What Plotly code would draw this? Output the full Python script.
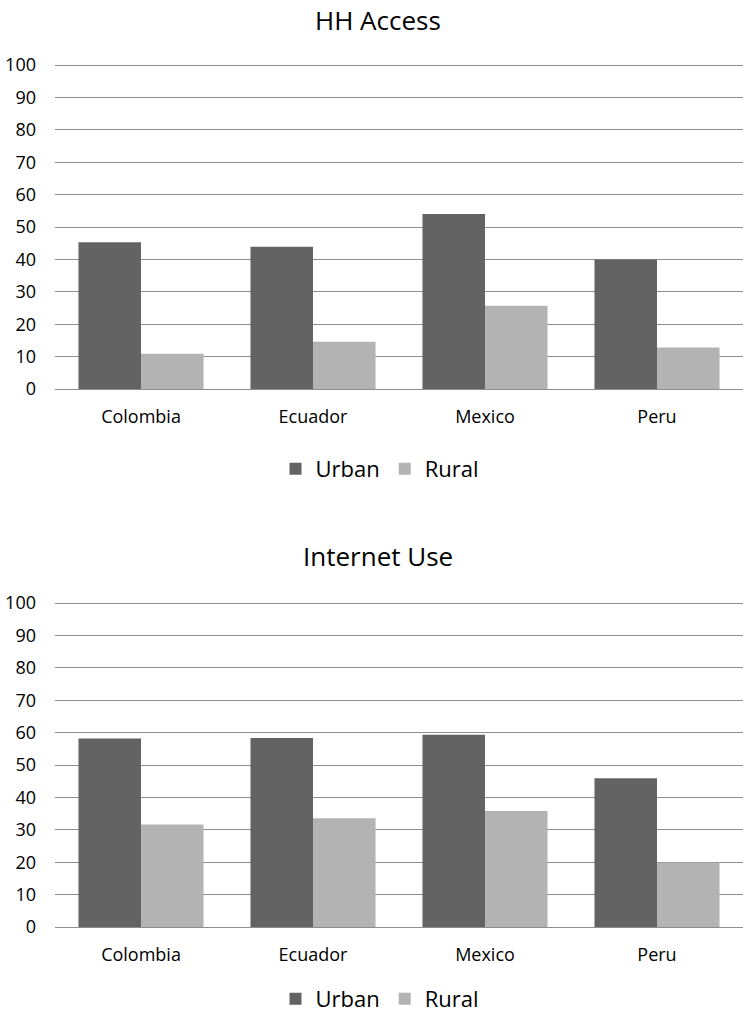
import plotly.graph_objects as go
from plotly.subplots import make_subplots

countries = ["Colombia", "Ecuador", "Mexico", "Peru"]
access_urban = [45.3, 43.9, 54.0, 40.0]
access_rural = [10.9, 14.6, 25.7, 12.8]
use_urban = [58.2, 58.3, 59.3, 45.9]
use_rural = [31.6, 33.6, 35.8, 19.9]
panel_titles = ["HH Access", "Internet Use"]

URBAN = "#636363"
RURAL = "#b3b3b3"
GRID = "#8e8e8e"
FONT = "Open Sans"

W, H = 743, 1021
LEFT = 55
YMAX = 101          # a little headroom so the 100 gridline is drawn
PX_PER_UNIT = 3.24  # vertical pixels per axis unit

def py(px):
    return 1 - px / H

def px_x(px):
    return (px - LEFT) / (W - LEFT)

fig = make_subplots(rows=2, cols=1)

panels = [(access_urban, access_rural, "legend"), (use_urban, use_rural, "legend2")]
for i, (urb, rur, leg) in enumerate(panels, start=1):
    fig.add_trace(go.Bar(x=countries, y=urb, name="Urban", marker_color=URBAN,
                         marker_line_width=0, legend=leg), row=i, col=1)
    fig.add_trace(go.Bar(x=countries, y=rur, name="Rural", marker_color=RURAL,
                         marker_line_width=0, legend=leg), row=i, col=1)

fig.update_layout(
    width=W, height=H,
    margin=dict(l=LEFT, r=0, t=0, b=0, autoexpand=False),
    paper_bgcolor="white", plot_bgcolor="white",
    barmode="group", bargap=0.273, bargroupgap=0,
    font=dict(family=FONT, size=18, color="#000000"),
    showlegend=True,
    legend=dict(orientation="h", x=px_x(380), xanchor="center", y=py(469), yanchor="middle",
                font=dict(size=22), itemwidth=30, traceorder="normal"),
    legend2=dict(orientation="h", x=px_x(380), xanchor="center", y=py(999), yanchor="middle",
                 font=dict(size=22), itemwidth=30, traceorder="normal"),
)

fig.update_yaxes(range=[0, YMAX], tickvals=list(range(0, 101, 10)), showgrid=True,
                 gridcolor=GRID, gridwidth=1, zeroline=False, showline=False, ticks="",
                 ticklabelstandoff=18, tickfont=dict(size=18), fixedrange=True)
fig.update_xaxes(showline=True, linecolor=GRID, linewidth=1, ticks="",
                 ticklabelstandoff=11, tickfont=dict(size=18), fixedrange=True)

span = YMAX * PX_PER_UNIT
fig.update_layout(
    yaxis=dict(domain=[py(389), py(389 - span)]),
    yaxis2=dict(domain=[py(927), py(927 - span)]),
)

for title, ty in zip(panel_titles, [0, 536]):
    fig.add_annotation(text=title, x=px_x(378), y=py(ty), xref="paper", yref="paper",
                       xanchor="center", yanchor="top", showarrow=False,
                       font=dict(size=26, family=FONT, color="#000000"))

fig.write_html("out.html")
